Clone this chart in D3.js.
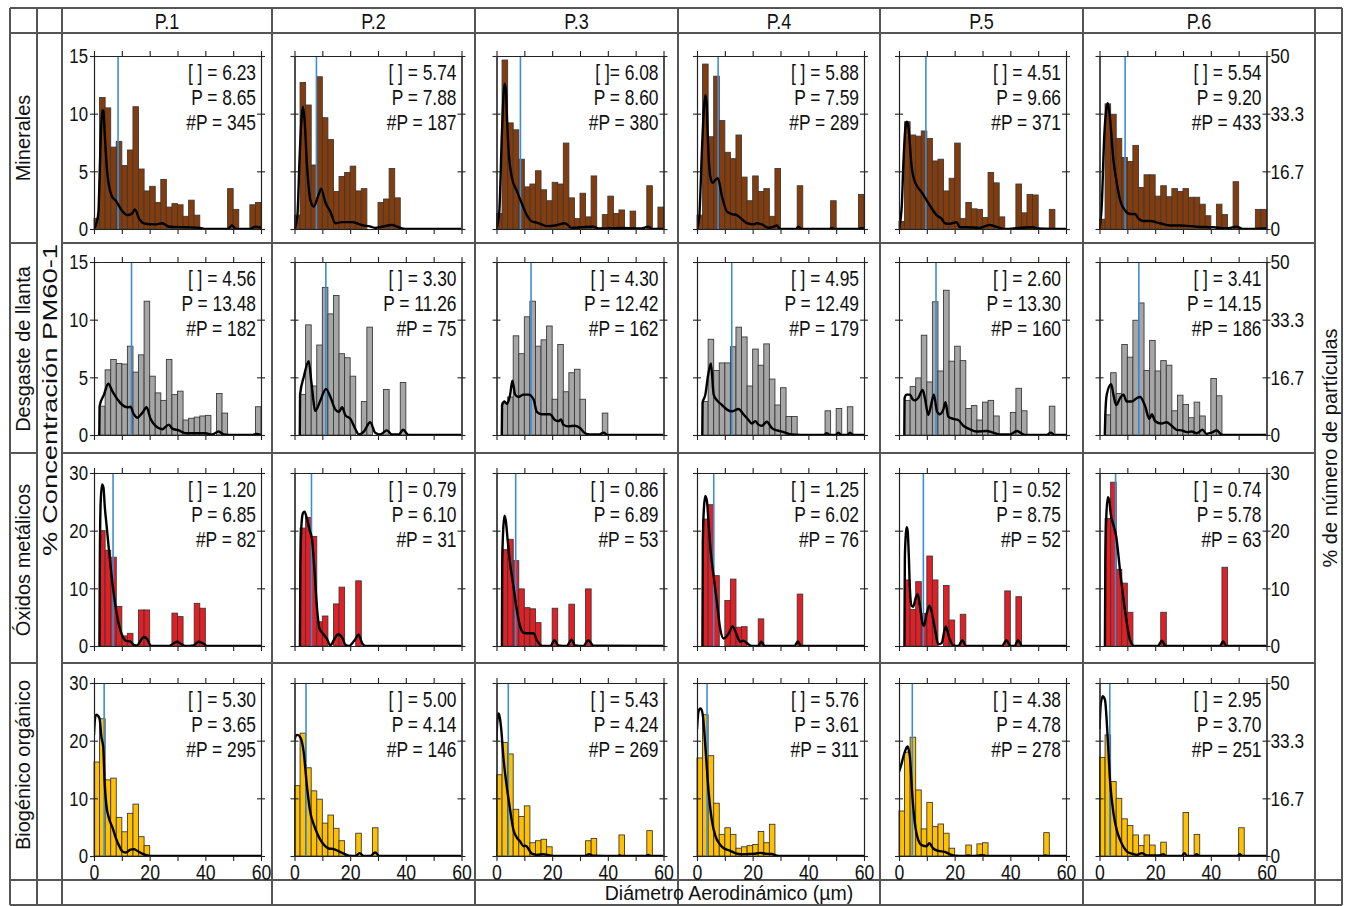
<!DOCTYPE html>
<html>
<head>
<meta charset="utf-8">
<script src="https://cdn.jsdelivr.net/npm/d3@7"></script>
<style>
  body { margin: 0; background: #fff; }
  svg text { font-family: "Liberation Sans", Arial, sans-serif; fill: #111; }
</style>
</head>
<body>
<svg id="chart" width="1347" height="906"></svg>
<script>
// ---- data -------------------------------------------------------------
const columns = ["P.1", "P.2", "P.3", "P.4", "P.5", "P.6"];
const rowLabels = ["Minerales", "Desgaste de llanta", "Óxidos metálicos", "Biogénico orgánico"];
const binStarts = [0, 2, 4, 6, 8, 10, 12, 14, 16, 18, 20, 22, 24, 26, 28, 30, 32, 34, 36, 38, 40, 42, 44, 46, 48, 50, 52, 54, 56, 58];
const xTicks = [0, 10, 20, 30, 40, 50, 60];
const xTickLabels = [0, 20, 40, 60];
const leftTicks = [[0, 5, 10, 15], [0, 5, 10, 15], [0, 10, 20, 30], [0, 10, 20, 30]];
const rightTickLabels = [["0", "16.7", "33.3", "50"], ["0", "16.7", "33.3", "50"], ["0", "10", "20", "30"], ["0", "16.7", "33.3", "50"]];

// % concentración per 2 µm bin
const mineralesBars = [
  [0.9, 11.4, 10.5, 7.1, 7.6, 5.5, 6.85, 10.6, 5.2, 3.3, 3.7, 2.3, 4.3, 1.9, 2.2, 2.1, 1.1, 2.5, 1.2, 0, 0, 0, 0, 0, 3.5, 1.7, 0, 0, 2.1, 2.3],
  [1.2, 12.7, 10.75, 5.55, 13.2, 9.65, 7.75, 3.25, 4.55, 4.9, 5.45, 3.3, 3.5, 0, 0, 2.3, 2.6, 5.25, 2.7, 0, 0, 0, 0, 0, 0, 0, 0, 0, 0, 0],
  [1.35, 14.65, 9.2, 8.6, 6.05, 3.65, 3.9, 5.05, 3.4, 2.45, 4.05, 3.9, 7.45, 2.7, 0.9, 3.1, 1.05, 4.6, 0, 1.25, 2.85, 1.35, 1.65, 0, 1.55, 0, 0, 3.75, 0, 1.9],
  [1.2, 14.3, 8.0, 13.25, 9.4, 6.65, 6.1, 8.15, 4.5, 2.45, 4.6, 3.25, 3.5, 1.1, 5.25, 0, 0, 0, 3.75, 0, 0, 0, 0, 0, 2.45, 0, 0, 0, 0, 3.0],
  [0.65, 9.3, 8.15, 8.05, 8.5, 7.85, 5.9, 6.05, 3.3, 4.4, 7.45, 0.9, 2.3, 1.75, 1.7, 1.0, 4.9, 4.0, 1.05, 0, 0, 3.9, 1.4, 3.0, 2.95, 0, 0, 1.7, 0, 0],
  [0.85, 10.85, 9.95, 7.85, 6.2, 5.85, 7.25, 3.6, 4.7, 4.7, 2.85, 3.75, 2.8, 3.5, 3.25, 3.5, 2.75, 2.75, 2.15, 1.15, 0, 2.15, 1.25, 0, 4.1, 0, 0, 0, 1.7, 1.7]
];
const desgasteBars = [
  [0, 2.5, 5.65, 6.55, 6.2, 6.15, 7.7, 5.45, 6.95, 11.6, 5.1, 3.65, 3.0, 6.55, 3.5, 3.8, 1.3, 1.45, 1.55, 1.65, 1.7, 0, 3.6, 1.9, 0, 0, 0, 0, 0, 2.45],
  [0, 3.5, 9.55, 4.25, 7.8, 12.8, 10.5, 12.1, 7.05, 6.7, 5.1, 0, 2.9, 9.35, 0, 0, 3.95, 0, 0, 4.55, 0, 0, 0, 0, 0, 0, 0, 0, 0, 0],
  [0, 2.8, 3.3, 8.6, 7.05, 10.25, 11.6, 7.7, 8.25, 9.45, 3.1, 7.85, 3.75, 5.4, 5.7, 3.1, 0, 0, 0, 1.9, 0, 0, 0, 0, 0, 0, 0, 0, 0, 0],
  [0, 2.9, 8.3, 5.6, 6.25, 6.25, 7.65, 9.35, 8.5, 4.25, 7.45, 6.05, 7.9, 4.85, 2.6, 4.1, 1.6, 1.6, 0, 0, 0, 0, 0, 2.1, 0, 2.3, 0, 2.45, 0, 0],
  [0, 3.0, 4.2, 4.95, 8.65, 4.6, 11.55, 5.55, 12.55, 6.4, 7.7, 6.45, 2.3, 2.55, 1.3, 2.85, 3.0, 1.65, 0, 0, 1.95, 4.05, 2.1, 0, 0, 0, 0, 2.5, 0, 0],
  [0, 1.75, 5.4, 3.6, 7.85, 6.75, 9.95, 11.45, 5.6, 8.2, 5.55, 6.45, 6.05, 2.1, 3.45, 2.65, 1.5, 2.85, 1.65, 0, 4.9, 3.4, 0, 0, 0, 0, 0, 0, 0, 0]
];
const oxidosBars = [
  [0, 20.0, 16.6, 15.4, 6.85, 1.75, 2.2, 0, 6.25, 6.25, 0, 0, 0, 0, 5.7, 5.1, 0, 0, 7.4, 6.55, 0, 0, 0, 0, 0, 0, 0, 0, 0, 0],
  [0, 20.45, 22.3, 19.0, 4.2, 5.2, 0, 7.3, 10.2, 0, 0, 11.3, 0, 0, 0, 0, 0, 0, 0, 0, 0, 0, 0, 0, 0, 0, 0, 0, 0, 0],
  [0, 16.7, 18.5, 14.8, 9.9, 6.65, 6.45, 4.05, 0, 0, 6.55, 0, 0, 7.25, 0, 0, 9.9, 0, 0, 0, 0, 0, 0, 0, 0, 0, 0, 0, 0, 0],
  [0, 22.0, 24.5, 12.2, 0, 7.9, 11.6, 3.25, 3.35, 0, 0, 4.7, 0, 0, 0, 0, 0, 0, 9.0, 0, 0, 0, 0, 0, 0, 0, 0, 0, 0, 0],
  [0, 11.45, 6.35, 11.15, 5.65, 15.6, 11.45, 0, 10.5, 4.5, 0, 5.5, 0, 0, 0, 0, 0, 0, 0, 9.55, 0, 8.55, 0, 0, 0, 0, 0, 0, 0, 0],
  [0, 22.1, 28.4, 13.3, 10.9, 5.85, 0, 0, 0, 0, 0, 5.85, 0, 0, 0, 0, 0, 0, 0, 0, 0, 0, 13.65, 0, 0, 0, 0, 0, 0, 0]
];
const biogenicoBars = [
  [16.3, 23.8, 13.2, 13.5, 6.7, 4.2, 7.4, 9.0, 3.35, 1.8, 0, 0, 0, 0, 0, 0, 0, 0, 0, 0, 0, 0, 0, 0, 0, 0, 0, 0, 0, 0],
  [12.2, 21.3, 15.3, 11.3, 9.85, 5.7, 7.1, 4.8, 2.65, 0, 0, 3.95, 0, 0, 4.9, 0, 0, 0, 0, 0, 0, 0, 0, 0, 0, 0, 0, 0, 0, 0],
  [14.1, 19.7, 17.7, 8.1, 6.85, 8.7, 2.3, 2.65, 2.9, 1.6, 0, 0, 0, 0, 0, 0, 2.65, 3.05, 0, 0, 0, 0, 3.65, 0, 0, 0, 0, 4.4, 0, 0],
  [17.0, 24.5, 17.4, 9.15, 3.75, 4.9, 3.75, 1.35, 1.6, 1.8, 2.0, 4.25, 2.3, 5.5, 0, 0, 0, 0, 0, 0, 0, 0, 0, 0, 0, 0, 0, 0, 0, 0],
  [7.8, 18.0, 20.6, 11.45, 4.7, 9.3, 5.1, 5.55, 3.95, 1.35, 0, 0, 1.9, 0, 2.1, 2.3, 0, 0, 0, 0, 0, 0, 0, 0, 0, 0, 4.05, 0, 0, 0],
  [17.1, 21.0, 12.9, 10.0, 6.45, 5.3, 3.65, 1.8, 3.65, 1.9, 0, 2.4, 0, 0, 0, 7.55, 0, 3.75, 0, 0, 0, 0, 0, 0, 0, 4.9, 0, 0, 0, 0]
];

// % número de partículas curves, [diameter µm, value read on the left axis]
const mineralesCurves = [
  [[0, 0], [1, 0.6], [1.6, 1.5], [2, 4.5], [2.5, 8.5], [3, 10.3], [3.4, 10.2], [3.8, 8.5], [4.8, 4.8], [6.3, 2.9], [8, 2.4], [10, 1.6], [12, 1.2], [13.7, 1.35], [14.7, 1.7], [16.4, 0.8], [18.5, 0.45], [22, 0.4], [24.5, 0.5], [27, 0.2], [33, 0.15], [38, 0.1], [40, 0], [48, 0], [49.6, 0.3], [51, 0], [56, 0], [58, 0.2], [60, 0.1]],
  [[0, 0], [1, 1], [1.8, 6], [2.5, 9.5], [3, 10.6], [3.6, 9.5], [4.5, 5.5], [5.7, 2.5], [6.9, 1.95], [8.7, 3.0], [9.6, 3.5], [11.1, 2.3], [12.9, 1.5], [14.7, 0.5], [17, 0.6], [20.7, 0.6], [23, 0.45], [24.9, 0.3], [26.6, 0.25], [29, 0.1], [31.4, 0.2], [35, 0.35], [37.4, 0.15], [39.8, 0], [60, 0]],
  [[0, 0], [1, 1.5], [1.9, 8], [2.5, 11.5], [2.9, 12.6], [3.4, 12], [3.7, 10], [4.3, 7], [5.5, 4.5], [7.3, 3.3], [9.1, 2.2], [10.9, 1.2], [12.7, 0.65], [14.5, 0.55], [16.2, 0.4], [18, 0.25], [21, 0.3], [24.6, 0.5], [27, 0.1], [30.6, 0.15], [34.8, 0.2], [36.6, 0.05], [45, 0.1], [52, 0.05], [54.5, 0.2], [56, 0], [60, 0]],
  [[0, 0], [0.8, 1], [1.8, 7], [2.5, 10.5], [3, 11.6], [3.5, 10.8], [3.8, 8.5], [4.8, 4.5], [5.6, 4.0], [6.8, 4.3], [7.5, 4.4], [9, 2.8], [10.8, 1.5], [12.5, 1.3], [14.3, 1.2], [16.1, 0.85], [17.9, 0.5], [20.3, 0.4], [21.5, 0.5], [23.3, 0.4], [25.7, 0.1], [27.5, 0.2], [28.7, 0.3], [29.9, 0], [35.5, 0], [36.4, 0.2], [37.5, 0], [47.5, 0], [48.4, 0.1], [49.5, 0], [58, 0], [59, 0.1], [60, 0]],
  [[0, 0], [1, 2], [1.55, 5.5], [2.2, 8.5], [2.75, 9.3], [3.3, 9.0], [4.5, 5.5], [5.1, 4.6], [6.3, 3.8], [8.1, 3.2], [9.9, 2.5], [11.7, 1.8], [13.5, 1.2], [15.3, 0.9], [16.5, 0.5], [18.3, 0.45], [20.7, 0.6], [21.9, 0.15], [24.3, 0.15], [29, 0.1], [32.6, 0.35], [36.2, 0.1], [38, 0], [43.4, 0.1], [48.1, 0.15], [50, 0.05], [60, 0]],
  [[0, 0], [0.8, 2], [1.7, 8], [2.4, 10.3], [3, 10.9], [3.8, 9.5], [5, 6], [6.2, 4], [7.4, 2.5], [9.2, 1.6], [11, 1.3], [12.8, 1.3], [14, 0.9], [15.8, 0.7], [18.2, 0.7], [21.7, 0.5], [25.3, 0.3], [28.9, 0.3], [34.9, 0.2], [40.9, 0.15], [45.6, 0.05], [49.2, 0.2], [51.6, 0], [60, 0.05]]
];
const desgasteCurves = [
  [[1.9, 0], [2, 2.5], [3.6, 3.5], [5.1, 4.45], [6.6, 3.8], [8.4, 3.1], [10.2, 2.6], [12, 2.4], [13.1, 2.45], [14.3, 1.8], [15.5, 1.5], [17.3, 1.9], [18.9, 2.4], [20.3, 1.4], [22.1, 0.8], [24.5, 0.5], [26.9, 0.9], [28.1, 0.55], [30.5, 0.4], [32.9, 0.15], [40, 0.15], [42.4, 0.05], [44.8, 0.3], [46.6, 0.05], [50, 0], [57, 0], [58.5, 0.1], [60, 0]],
  [[1.9, 0], [2, 3.5], [3.3, 5], [5.1, 6.4], [6.1, 4.5], [7.5, 2.1], [9.3, 3.0], [11.3, 4.0], [12.9, 3.3], [14.7, 2.2], [15.9, 2.0], [17.1, 2.4], [18.3, 1.7], [20.1, 1.4], [21.9, 0.5], [23.1, 0.05], [24.9, 0.3], [27.2, 1.1], [29, 0.2], [30.8, 0.05], [33.2, 0.4], [35, 0.05], [37.5, 0.05], [39, 0.45], [41, 0], [60, 0]],
  [[1.9, 0], [2, 2.6], [2.9, 2.9], [3.7, 2.7], [4.9, 3.5], [5.7, 4.7], [6.7, 3.5], [7.9, 3.3], [9.7, 3.5], [11.5, 3.5], [13.3, 3.1], [14.5, 2.0], [16.2, 1.8], [19.2, 1.8], [21, 1.3], [22.2, 1.2], [23.2, 1.35], [24, 0.9], [25.8, 0.75], [28.2, 0.8], [30, 0.6], [31.8, 0.15], [33.6, 0.05], [37, 0.05], [38.4, 0.2], [40.1, 0], [60, 0]],
  [[1.9, 0], [2, 2.8], [3, 3.5], [4, 5.2], [5, 6.2], [6, 3.5], [7.2, 3.0], [9, 2.6], [10.8, 2.2], [12.5, 2.05], [14.9, 2.25], [16.7, 1.8], [18.5, 1.3], [19.7, 1.0], [20.9, 1.2], [22.1, 0.9], [23.3, 0.8], [25.1, 1.15], [26.9, 0.6], [28.7, 0.4], [30.5, 0.3], [32.3, 0.15], [34, 0.05], [40, 0], [45.5, 0], [46.6, 0.15], [47.8, 0], [49.8, 0], [50.8, 0.2], [51.9, 0], [54, 0], [55, 0.2], [56, 0], [60, 0]],
  [[1.9, 0], [2, 3.2], [2.7, 3.5], [3.9, 3.5], [4.9, 3.1], [5.7, 3.0], [6.9, 3.2], [8.5, 3.9], [9.3, 3.2], [10.5, 1.75], [11.7, 2.8], [12.5, 3.5], [13.7, 2.0], [14.7, 1.8], [15.9, 2.2], [16.7, 2.85], [17.7, 1.6], [19.5, 1.4], [21.3, 1.3], [23.1, 0.8], [25.4, 0.5], [27.8, 0.3], [31.4, 0.35], [33.8, 0.2], [36.2, 0.05], [39.8, 0.05], [42.4, 0.35], [44.6, 0.05], [46, 0], [53, 0], [54.5, 0.2], [56, 0], [60, 0]],
  [[1.9, 0], [2.1, 1.8], [2.6, 3.5], [4.2, 4.4], [5, 3.5], [6, 2.6], [7.4, 3.2], [8.6, 3.5], [9.8, 2.9], [11.6, 2.9], [13.4, 3.2], [14.6, 3.3], [16.4, 2.5], [17.9, 1.4], [18.8, 1.8], [20, 1.2], [22.3, 1.0], [24.1, 1.1], [25.9, 0.8], [27.7, 0.45], [29.5, 0.4], [31.3, 0.25], [33.1, 0.3], [34.9, 0.15], [37, 0.45], [38.5, 0.1], [40.3, 0.2], [42.1, 0.4], [43.8, 0.05], [45, 0], [60, 0]]
];
const oxidosCurves = [
  [[1.95, 0], [2.1, 15], [2.4, 25], [2.9, 28], [3.4, 27.5], [3.9, 24], [4.5, 21], [5.5, 16], [6.6, 11], [8.4, 5], [10, 2], [11.5, 0.9], [13, 0.8], [14.3, 0.2], [15.5, 0.1], [16.7, 0.9], [17.9, 1.55], [19.1, 1.2], [20.3, 0.1], [21, 0], [27, 0], [28.4, 0.4], [29.9, 0.75], [31.1, 0.4], [32.9, 0], [35.8, 0.1], [37.6, 0.75], [39.4, 0.4], [40.6, 0], [60, 0]],
  [[1.95, 0], [2.1, 14], [2.5, 21], [3, 23], [3.6, 23.3], [4.5, 22], [5.5, 20], [6.3, 18.5], [7.2, 13], [8.1, 6.5], [9, 3], [10.5, 2.0], [11.7, 1.2], [12.9, 0.1], [14.1, 1.0], [15.7, 2.05], [17.1, 1.5], [18.3, 0.2], [19.5, 0], [21.6, 1.0], [23, 1.95], [24.3, 0.5], [25.4, 0], [60, 0]],
  [[1.95, 0], [2.05, 14], [2.4, 20], [2.9, 22.6], [3.4, 21.5], [4, 18.4], [4.9, 14.3], [6.1, 10.3], [7.3, 6.25], [8.5, 3.4], [9.7, 2.3], [11.5, 2.2], [13.3, 2.2], [14.5, 1.0], [15.7, 0.2], [16.8, 0], [19.4, 0], [20.8, 1.0], [22.2, 0.1], [25.2, 0], [27, 1.1], [28.2, 0.1], [31.2, 0], [33, 1.0], [34.8, 0.05], [60, 0]],
  [[1.95, 0], [2.1, 18], [2.5, 24], [3, 26], [3.6, 25], [4.2, 21], [4.8, 17], [6, 12], [7.2, 7.4], [8.4, 2.8], [9.6, 1.3], [11.4, 2.2], [12.8, 3.4], [14.3, 1.9], [15.5, 0.75], [16.7, 0.9], [17.9, 0.5], [19.7, 0], [22, 0], [23.1, 0.75], [24.3, 0], [35, 0], [36.2, 0.8], [37.4, 0], [60, 0]],
  [[1.95, 0], [2.1, 15], [2.4, 19], [2.75, 20.6], [3.1, 20], [3.5, 16], [3.9, 10], [4.5, 7], [5.1, 6.8], [6.1, 8.5], [6.7, 9.0], [7.5, 7], [8.4, 4.0], [9, 3.5], [9.9, 5.5], [10.9, 7.0], [11.7, 6.0], [12.9, 3], [14.1, 0.3], [15.3, 0.5], [16.8, 3.4], [18, 1.5], [19.5, 0.1], [21.3, 0], [22.8, 1.0], [24, 0], [37, 0], [38.6, 1.0], [40, 0], [41.5, 0], [42.8, 1.0], [44.2, 0], [60, 0]],
  [[1.95, 0], [2.1, 15], [2.5, 23], [3, 25.8], [3.5, 25.3], [4, 23], [5, 21], [6, 19], [7.4, 13], [9.2, 6], [11, 1], [12.5, 0], [21, 0], [22.4, 0.9], [23.8, 0], [43.2, 0], [44.4, 0.8], [45.6, 0], [60, 0]]
];
const biogenicoCurves = [
  [[0, 21], [0.4, 24], [0.9, 24.5], [1.5, 24.3], [2, 23.8], [2.7, 20.5], [3.3, 19], [3.8, 13], [4.4, 9], [5.4, 6.5], [6.6, 5], [7.8, 3.2], [9, 1.8], [10.2, 0.8], [11.4, 0.6], [13.1, 1.1], [14.3, 1.2], [15.5, 0.9], [17.3, 0.4], [19.7, 0.05], [21, 0], [60, 0]],
  [[0, 20], [0.5, 20.9], [1, 21], [2.2, 20.5], [3.3, 18], [4.5, 12], [5.7, 7.5], [6.9, 5.5], [8.1, 4], [9.3, 2.8], [10.5, 2.0], [12.3, 1.3], [14.1, 1.2], [15.9, 0.8], [17.7, 0.4], [19.5, 0.05], [21.9, 0], [23.4, 0.5], [24.9, 0], [27.2, 0], [29, 0.6], [30.5, 0], [60, 0]],
  [[0, 20], [0.3, 23.5], [0.7, 24.7], [1.2, 24], [1.7, 22], [2.5, 17], [3.7, 12], [4.9, 8], [6.1, 4.5], [7.3, 3.2], [8.5, 2.5], [9.7, 1.7], [10.5, 1.8], [11.5, 1.2], [12.7, 0.4], [14.5, 0.2], [16.8, 0.3], [19.2, 0.1], [21, 0], [31.8, 0], [33.3, 0.3], [34.8, 0.05], [43.5, 0], [44.3, 0.1], [45, 0], [53.5, 0], [54.5, 0.2], [55.5, 0], [60, 0]],
  [[0, 22], [0.5, 25], [1.2, 25.6], [1.7, 25.3], [2.2, 24], [3, 19], [4.2, 11], [5.4, 6], [6.6, 3.5], [7.8, 2.3], [9, 1.6], [10.2, 1.2], [12, 0.9], [13.7, 0.5], [16.1, 0.3], [18.5, 0.35], [20.9, 0.4], [22.7, 0.55], [24.5, 0.4], [26.9, 0.35], [28.7, 0.05], [30, 0], [60, 0]],
  [[0, 14.6], [0.8, 15.8], [1.6, 17.3], [2.7, 18.8], [3.1, 19], [3.5, 18.4], [3.9, 17.3], [4.8, 10.4], [5.7, 5.7], [6.9, 2.8], [8.1, 1.9], [9.9, 1.7], [10.9, 2.2], [12.3, 1.3], [14.1, 0.9], [16.5, 0.7], [18.3, 0.3], [20.1, 0.05], [24, 0], [24.8, 0.1], [26, 0], [29, 0.1], [30.2, 0.15], [31.5, 0], [52, 0], [52.7, 0.1], [53.5, 0], [60, 0]],
  [[0, 22], [0.5, 26.5], [1.2, 27.7], [1.6, 27.5], [2, 27], [3, 20], [3.8, 13], [5, 7.5], [6.2, 4.5], [7.4, 2.8], [8.6, 1.6], [9.8, 0.8], [11.6, 0.4], [13.4, 0.2], [15.2, 0.5], [17, 0.1], [21.5, 0.1], [22.9, 0.3], [24, 0], [29.5, 0], [30.5, 0.5], [31.5, 0], [34, 0], [34.9, 0.3], [36, 0], [49.5, 0], [50.4, 0.3], [51.3, 0], [60, 0]]
];

const mineralesConc = ["[ ] = 6.23", "[ ] = 5.74", "[ ]= 6.08", "[ ] = 5.88", "[ ] = 4.51", "[ ] = 5.54"];
const mineralesP = [8.65, 7.88, 8.60, 7.59, 9.66, 9.20];
const mineralesN = [345, 187, 380, 289, 371, 433];
const desgasteConc = ["[ ] = 4.56", "[ ] = 3.30", "[ ] = 4.30", "[ ] = 4.95", "[ ] = 2.60", "[ ] = 3.41"];
const desgasteP = [13.48, 11.26, 12.42, 12.49, 13.30, 14.15];
const desgasteN = [182, 75, 162, 179, 160, 186];
const oxidosConc = ["[ ] = 1.20", "[ ] = 0.79", "[ ] = 0.86", "[ ] = 1.25", "[ ] = 0.52", "[ ] = 0.74"];
const oxidosP = [6.85, 6.10, 6.89, 6.02, 8.75, 5.78];
const oxidosN = [82, 31, 53, 76, 52, 63];
const biogenicoConc = ["[ ] = 5.30", "[ ] = 5.00", "[ ] = 5.43", "[ ] = 5.76", "[ ] = 4.38", "[ ] = 2.95"];
const biogenicoP = [3.65, 4.14, 4.24, 3.61, 4.78, 3.70];
const biogenicoN = [295, 146, 269, 311, 278, 251];

// ---- layout -----------------------------------------------------------
const FONT = '"Liberation Sans", Arial, sans-serif';
const rows = [
  { bars: mineralesBars, curves: mineralesCurves, conc: mineralesConc, p: mineralesP, n: mineralesN, max: 15, color: "#843c0c" },
  { bars: desgasteBars, curves: desgasteCurves, conc: desgasteConc, p: desgasteP, n: desgasteN, max: 15, color: "#a6a6a6" },
  { bars: oxidosBars, curves: oxidosCurves, conc: oxidosConc, p: oxidosP, n: oxidosN, max: 30, color: "#e31e24" },
  { bars: biogenicoBars, curves: biogenicoCurves, conc: biogenicoConc, p: biogenicoP, n: biogenicoN, max: 30, color: "#ffc000" }
];
const plotLeft = [94, 294.5, 496.5, 697, 899, 1099.5];
const plotTop = [56, 262, 473, 683];
const plotW = 167, plotH = 173;
const colEdges = [62, 272, 475, 678, 880, 1083, 1315];
const rowLabelY = [138, 349, 560, 765];
const gridColor = "#555";

const svg = d3.select("#chart");

// squeeze text horizontally around its anchor point (Arial Narrow look)
function narrow(sel, k = 0.8) {
  sel.each(function () {
    const t = d3.select(this);
    const tx = +t.attr("x") || 0, ty = +t.attr("y") || 0;
    t.attr("x", 0).attr("y", 0).attr("transform", `translate(${tx},${ty}) scale(${k},1)`);
  });
}

// table grid
const grid = svg.append("g").attr("stroke", gridColor).attr("stroke-width", 1.2).attr("shape-rendering", "crispEdges");
[10, 37, 62, 272, 475, 678, 880, 1083, 1315, 1342].forEach((x) => {
  grid.append("line").attr("x1", x).attr("x2", x).attr("y1", 8).attr("y2", 905);
});
[8, 33, 880, 905].forEach((y) => {
  grid.append("line").attr("x1", 10).attr("x2", 1342).attr("y1", y).attr("y2", y);
});
[243, 453, 663].forEach((y) => {
  grid.append("line").attr("x1", 10).attr("x2", 37).attr("y1", y).attr("y2", y);
  grid.append("line").attr("x1", 62).attr("x2", 1315).attr("y1", y).attr("y2", y);
});

// headers
columns.forEach((c, i) => {
  svg.append("text").attr("x", (colEdges[i] + colEdges[i + 1]) / 2).attr("y", 28.5)
    .attr("text-anchor", "middle").attr("font-size", 22.5).text(c).call(narrow, 0.8);
});
rowLabels.forEach((r, i) => {
  svg.append("text").attr("transform", `translate(23,${rowLabelY[i]}) rotate(-90)`)
    .attr("text-anchor", "middle").attr("dy", "0.35em").attr("font-size", 20).text(r);
});
svg.append("text").attr("transform", "translate(50,400) rotate(-90)")
  .attr("text-anchor", "middle").attr("dy", "0.35em").attr("font-size", 21)
  .attr("textLength", 312).attr("lengthAdjust", "spacingAndGlyphs")
  .text("% Concentración PM60-1");
svg.append("text").attr("transform", "translate(1330,448) rotate(-90)")
  .attr("text-anchor", "middle").attr("dy", "0.35em").attr("font-size", 20).text("% de número de partículas");
svg.append("text").attr("x", 729).attr("y", 900).attr("text-anchor", "middle")
  .attr("font-size", 19.5).text("Diámetro Aerodinámico (µm)");

const defs = svg.append("defs");

function styleAxis(g, size, k) {
  g.attr("font-family", FONT).attr("font-size", size || 19);
  g.selectAll("path").attr("stroke", "#222").attr("stroke-width", 1.1);
  g.selectAll("line").attr("stroke", "#222").attr("stroke-width", 1.1);
  g.selectAll("text").attr("fill", "#111").call(narrow, k || 0.8);
}

rows.forEach((row, ri) => {
  columns.forEach((col, ci) => {
    const x0 = plotLeft[ci], y0 = plotTop[ri];
    const x = d3.scaleLinear().domain([0, 60]).range([x0, x0 + plotW]);
    const y = d3.scaleLinear().domain([0, row.max]).range([y0 + plotH, y0]);
    const g = svg.append("g");
    const clipId = `clip-${ri}-${ci}`;
    defs.append("clipPath").attr("id", clipId).append("rect")
      .attr("x", x0).attr("y", y0 - 2).attr("width", plotW).attr("height", plotH + 2);

    // bars
    g.append("g").selectAll("rect")
      .data(binStarts.map((b, k) => ({ b, v: row.bars[ci][k] })).filter((d) => d.v > 0))
      .join("rect")
      .attr("x", (d) => x(d.b))
      .attr("width", (d) => x(d.b + 2) - x(d.b))
      .attr("y", (d) => y(d.v))
      .attr("height", (d) => y(0) - y(d.v))
      .attr("fill", row.color)
      .attr("stroke", "#3a3a3a")
      .attr("stroke-width", 0.9);

    // P marker
    g.append("line")
      .attr("x1", x(row.p[ci])).attr("x2", x(row.p[ci]))
      .attr("y1", y(0)).attr("y2", y(row.max))
      .attr("stroke", "#3b8ed6").attr("stroke-width", 1.6);

    // particle-number curve
    const line = d3.line().x((d) => x(d[0])).y((d) => y(d[1])).curve(d3.curveMonotoneX);
    g.append("path").datum(row.curves[ci])
      .attr("clip-path", `url(#${clipId})`)
      .attr("fill", "none").attr("stroke", "#000").attr("stroke-width", 2.4)
      .attr("stroke-linejoin", "round").attr("d", line);

    // axes / frame
    const bottom = g.append("g").attr("transform", `translate(0,${y0 + plotH})`)
      .call(d3.axisBottom(x).tickValues(xTicks).tickSize(5).tickSizeOuter(0).tickPadding(3.5)
        .tickFormat((d) => (ri === 3 && xTickLabels.includes(d) ? d : "")));
    styleAxis(bottom, 21.5, 0.82);
    const top = g.append("g").attr("transform", `translate(0,${y0})`)
      .call(d3.axisTop(x).tickValues(xTicks).tickSize(5).tickSizeOuter(0).tickFormat(""));
    styleAxis(top);

    const leftOut = g.append("g").attr("transform", `translate(${x0},0)`)
      .call(d3.axisLeft(y).tickValues(leftTicks[ri]).tickSize(4).tickSizeOuter(0).tickPadding(2)
        .tickFormat((d) => (ci === 0 ? d : "")));
    styleAxis(leftOut, 21, 0.8);
    const leftIn = g.append("g").attr("transform", `translate(${x0},0)`)
      .call(d3.axisRight(y).tickValues(leftTicks[ri]).tickSize(4).tickSizeOuter(0).tickFormat(""));
    styleAxis(leftIn);
    const rightOut = g.append("g").attr("transform", `translate(${x0 + plotW},0)`)
      .call(d3.axisRight(y).tickValues(leftTicks[ri]).tickSize(4).tickSizeOuter(0).tickPadding(0)
        .tickFormat((d, k) => (ci === 5 ? rightTickLabels[ri][k] : "")));
    styleAxis(rightOut, 21, 0.82);
    const rightIn = g.append("g").attr("transform", `translate(${x0 + plotW},0)`)
      .call(d3.axisLeft(y).tickValues(leftTicks[ri]).tickSize(4).tickSizeOuter(0).tickFormat(""));
    styleAxis(rightIn);

    // stats block
    const stats = [row.conc[ci], `P = ${row.p[ci].toFixed(2)}`, `#P = ${row.n[ci]}`];
    g.append("g").selectAll("text").data(stats).join("text")
      .attr("x", x0 + plotW - 5)
      .attr("y", (d, k) => y0 + 24 + k * 25)
      .attr("text-anchor", "end")
      .attr("font-size", 22)
      .text((d) => d)
      .call(narrow, 0.79);
  });
});
</script>
</body>
</html>
